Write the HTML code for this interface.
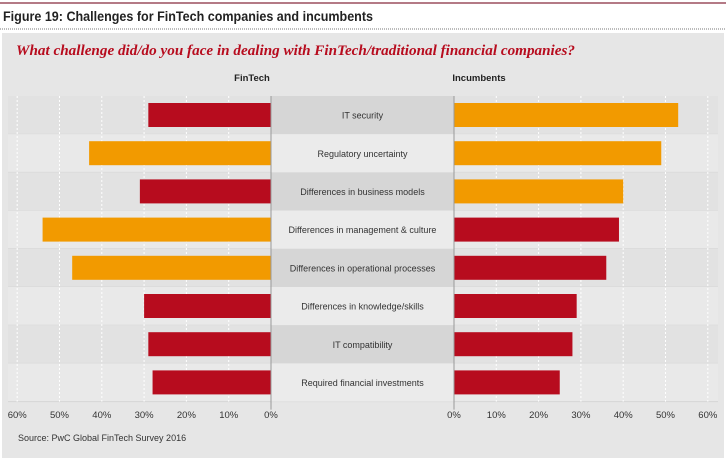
<!DOCTYPE html>
<html><head><style>
body{margin:0;background:#fff;}
svg{display:block;font-family:"Liberation Sans",Arial,sans-serif;}
</style></head><body>
<svg width="726" height="460" viewBox="0 0 726 460" xmlns="http://www.w3.org/2000/svg">
<rect x="0" y="0" width="726" height="460" fill="#fff"/>
<line x1="0" y1="3" x2="726" y2="3" stroke="#b47a86" stroke-width="2"/>
<text x="3" y="21" font-size="13.5" fill="#222" font-weight="bold" textLength="370" lengthAdjust="spacingAndGlyphs">Figure 19: Challenges for FinTech companies and incumbents</text>
<line x1="0" y1="29" x2="726" y2="29" stroke="#777" stroke-width="1" stroke-dasharray="1,1"/>
<rect x="2" y="33" width="722" height="425" fill="#e6e6e6"/>
<text x="16" y="55" font-size="14.5" fill="#b70c1e" font-style="italic" font-weight="bold" font-family="Liberation Serif,serif" textLength="559" lengthAdjust="spacingAndGlyphs">What challenge did/do you face in dealing with FinTech/traditional financial companies?</text>
<text x="252" y="81" font-size="9.5" fill="#222" text-anchor="middle" font-weight="bold">FinTech</text>
<text x="479" y="81" font-size="9.5" fill="#222" text-anchor="middle" font-weight="bold">Incumbents</text>
<g id="rows"></g>
</svg>
<script>
(function(){
const ns="http://www.w3.org/2000/svg";
const g=document.getElementById("rows");
function el(t,a,txt){const e=document.createElementNS(ns,t);for(const k in a)e.setAttribute(k,a[k]);if(txt)e.textContent=txt;g.appendChild(e);return e;}
const data=[["IT security",29,"r",53,"o"],["Regulatory uncertainty",43,"o",49,"o"],["Differences in business models",31,"r",40,"o"],["Differences in management & culture",54,"o",39,"r"],["Differences in operational processes",47,"o",36,"r"],["Differences in knowledge/skills",30,"r",29,"r"],["IT compatibility",29,"r",28,"r"],["Required financial investments",28,"r",25,"r"]];
const T0=96,h=38.2,L0=271,R0=454,s=4.23;
const col={r:"#b70c1e",o:"#f29a00"};
data.forEach((d,i)=>{const y=T0+i*h;
 el("rect",{x:8,y:y,width:710,height:h,fill:i%2?"#e9e9e9":"#e2e2e2"});
 el("line",{x1:8,y1:y+h,x2:718,y2:y+h,stroke:"#d6d6d6","stroke-width":1});
});
for(let k=1;k<=6;k++){
 [L0-k*10*s,R0+k*10*s].forEach(x=>el("line",{x1:x,y1:T0,x2:x,y2:T0+8*h,stroke:"#fff","stroke-width":1,"stroke-dasharray":"2,2"}));
}
data.forEach((d,i)=>{const y=T0+i*h;
 el("rect",{x:L0,y:y,width:R0-L0,height:h,fill:i%2?"#ebebeb":"#d6d6d6"});
 el("rect",{x:L0-d[1]*s,y:y+7,width:d[1]*s,height:24,fill:col[d[2]]});
 el("rect",{x:R0,y:y+7,width:d[3]*s,height:24,fill:col[d[4]]});
 el("text",{x:(L0+R0)/2,y:y+h/2+3.5,"font-size":9,fill:"#333","text-anchor":"middle"},d[0]);
});
el("line",{x1:L0,y1:T0,x2:L0,y2:T0+8*h+8,stroke:"#999","stroke-width":1});
el("line",{x1:R0,y1:T0,x2:R0,y2:T0+8*h+8,stroke:"#999","stroke-width":1});
for(let k=0;k<=6;k++){
 el("text",{x:L0-k*10*s,y:418,"font-size":9.5,fill:"#333","text-anchor":"middle"},(k*10)+"%");
 el("text",{x:R0+k*10*s,y:418,"font-size":9.5,fill:"#333","text-anchor":"middle"},(k*10)+"%");
}
el("text",{x:18,y:441,"font-size":9,fill:"#333"},"Source: PwC Global FinTech Survey 2016");
})();
</script>
</body></html>
